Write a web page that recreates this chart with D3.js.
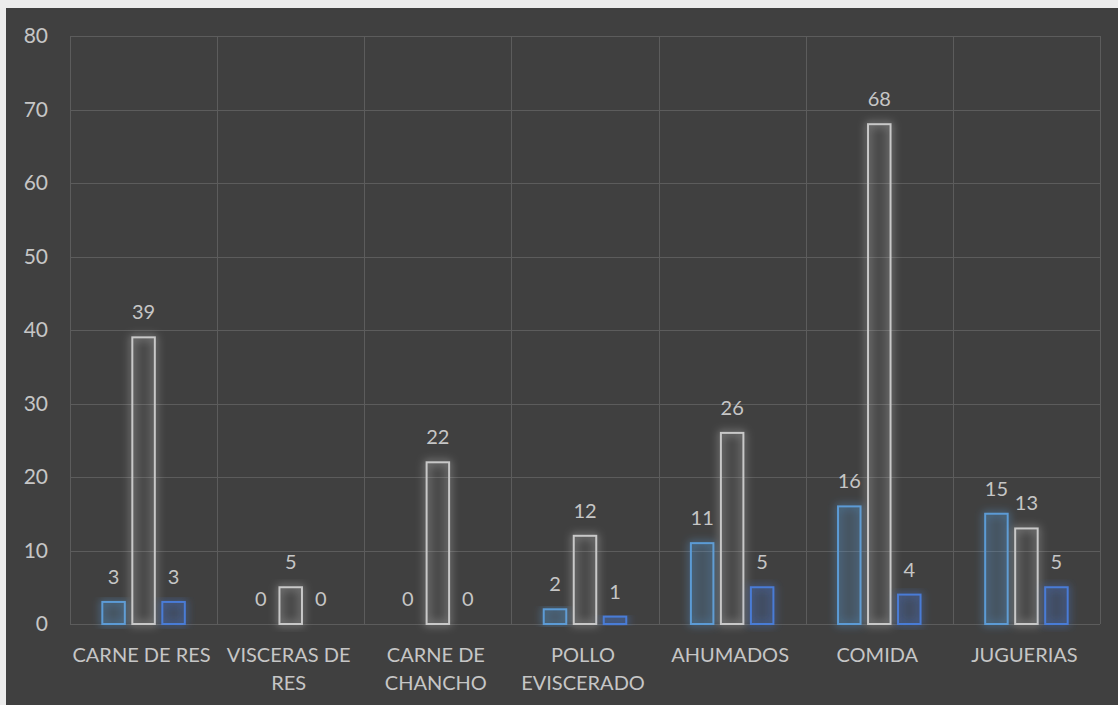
<!DOCTYPE html>
<html>
<head>
<meta charset="utf-8">
<script src="https://cdn.jsdelivr.net/npm/d3@7"></script>
<style>
  body { margin: 0; background: #ececec; }
  svg { display: block; }
  text { font-family: Lato, "Open Sans", sans-serif; fill: #c6c6c6; }
</style>
</head>
<body>
<script>
// datos
var categorias = ["CARNE DE RES", "VISCERAS DE RES", "CARNE DE CHANCHO", "POLLO EVISCERADO", "AHUMADOS", "COMIDA", "JUGUERIAS"]
var serie1 = [3, 0, 0, 2, 11, 16, 15]
var serie2 = [39, 5, 22, 12, 26, 68, 13]
var serie3 = [3, 0, 0, 1, 5, 4, 5]
var yTicks = [0, 10, 20, 30, 40, 50, 60, 70, 80]

var series = [serie1, serie2, serie3]
var strokes = ["#5b9bd5", "#c8c8c8", "#4a7bd6"]
var fills = ["rgba(91,155,213,0.12)", "rgba(160,160,160,0.06)", "rgba(68,114,196,0.14)"]

var W = 1118, H = 705
var svg = d3.select("body").append("svg")
    .attr("width", W)
    .attr("height", H)

var defs = svg.append("defs")
var glow = defs.append("filter").attr("id", "glow")
    .attr("x", "-60%").attr("y", "-20%").attr("width", "220%").attr("height", "140%")
glow.append("feGaussianBlur").attr("in", "SourceGraphic").attr("stdDeviation", 4).attr("result", "b")
var merge = glow.append("feMerge")
merge.append("feMergeNode").attr("in", "b")
merge.append("feMergeNode").attr("in", "SourceGraphic")

svg.append("rect")
    .attr("x", 6).attr("y", 8)
    .attr("width", W).attr("height", H)
    .attr("fill", "#404040")

var mLeft = 70, mRight = 1100, mTop = 36, mBottom = 624

let x = d3.scaleBand()
    .domain(categorias)
    .range([mLeft, mRight])

let xs = d3.scaleBand()
    .domain([0, 1, 2])
    .range([-45, 45])
    .paddingInner(0.25)
    .paddingOuter(0.125)

let y = d3.scaleLinear()
    .domain([0, 80])
    .range([mBottom, mTop])

// grid
svg.append("g").selectAll("line")
    .data(yTicks)
    .enter().append("line")
    .attr("x1", mLeft).attr("x2", mRight)
    .attr("y1", d => Math.round(y(d)) + 0.5)
    .attr("y2", d => Math.round(y(d)) + 0.5)
    .attr("stroke", "#5c5c5c")

var bounds = categorias.map(d => x(d)).concat([mRight])
svg.append("g").selectAll("line")
    .data(bounds)
    .enter().append("line")
    .attr("x1", d => Math.round(d) + 0.5).attr("x2", d => Math.round(d) + 0.5)
    .attr("y1", mTop).attr("y2", mBottom)
    .attr("stroke", "#5c5c5c")

// y labels
let yAxis = d3.axisLeft(y).tickValues(yTicks).tickSize(0).tickPadding(0)
let yg = svg.append("g")
    .attr("transform", "translate(48,0)")
    .call(yAxis)
yg.select(".domain").remove()
yg.selectAll("text")
    .attr("font-size", 21)
    .attr("fill", "#c6c6c6")
    .style("font-family", "Lato, sans-serif")

// barras
series.forEach((vals, i) => {
    let g = svg.append("g")
    g.selectAll("rect")
        .data(vals)
        .enter().append("rect")
        .attr("x", (d, j) => x(categorias[j]) + x.bandwidth() / 2 + xs(i))
        .attr("y", d => y(d))
        .attr("width", xs.bandwidth())
        .attr("height", d => y(0) - y(d))
        .attr("fill", fills[i])
        .attr("stroke", strokes[i])
        .attr("stroke-width", 2)
        .attr("filter", "url(#glow)")
        .style("display", d => d == 0 && i != 1 ? "none" : null)

    g.selectAll("text")
        .data(vals)
        .enter().append("text")
        .attr("x", (d, j) => x(categorias[j]) + x.bandwidth() / 2 + xs(i) + xs.bandwidth() / 2)
        .attr("y", d => y(d) - 18)
        .attr("text-anchor", "middle")
        .attr("font-size", 20)
        .text(d => d)
})

// etiquetas de categoria
function wrap(text, maxW) {
    text.each(function() {
        let t = d3.select(this)
        let words = t.text().split(" ")
        let cx = t.attr("x")
        t.text(null)
        let line = []
        let ts = t.append("tspan").attr("x", cx).attr("dy", 0)
        words.forEach(w => {
            line.push(w)
            ts.text(line.join(" "))
            if (ts.node().getComputedTextLength() > maxW && line.length > 1) {
                line.pop()
                ts.text(line.join(" "))
                line = [w]
                ts = t.append("tspan").attr("x", cx).attr("dy", 28).text(w)
            }
        })
    })
}

svg.append("g").selectAll("text")
    .data(categorias)
    .enter().append("text")
    .attr("x", d => x(d) + x.bandwidth() / 2 - 2)
    .attr("y", 662)
    .attr("text-anchor", "middle")
    .attr("font-size", 20)
    .text(d => d)
    .call(wrap, 143)
</script>
</body>
</html>
